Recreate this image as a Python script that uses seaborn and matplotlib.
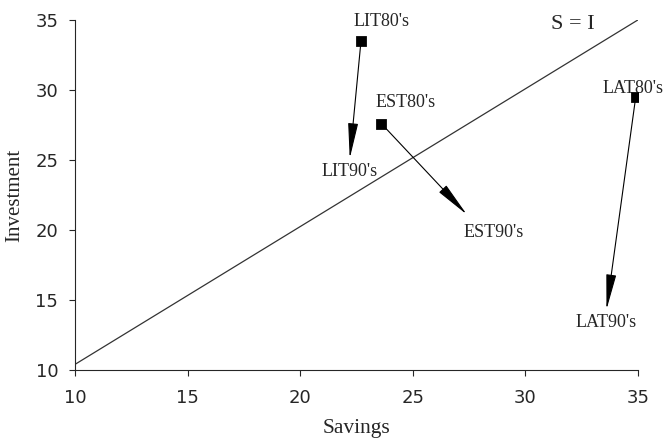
import matplotlib.pyplot as plt
import pandas as pd
import seaborn as sns

# regions, 80's position and 90's position (savings, investment)
regions = ['LIT', 'EST', 'LAT']
sav_80 = [22.7, 23.6, 34.9]
inv_80 = [33.5, 27.6, 29.5]
sav_90 = [22.2, 27.4, 33.6]
inv_90 = [25.1, 21.1, 14.3]

# label positions
lab80_x = [23.6, 24.7, 34.8]
lab80_y = [34.9, 29.1, 30.1]
lab90_x = [22.2, 28.6, 33.6]
lab90_y = [24.2, 19.8, 13.4]

# S = I reference line
line_x = [10, 35]
line_y = [10.4, 35]

df80 = pd.DataFrame({'Savings': sav_80, 'Investment': inv_80, 'region': regions})
df_line = pd.DataFrame({'Savings': line_x, 'Investment': line_y})

sns.set_style('ticks')
serif = ['Liberation Serif', 'DejaVu Serif']

fig = plt.figure(figsize=(6.67, 4.42), dpi=100)
ax = fig.add_axes([0.1125, 0.163, 0.844, 0.792])

sns.lineplot(data=df_line, x='Savings', y='Investment', color='#333333', lw=0.9, ax=ax)
sns.scatterplot(data=df80, x='Savings', y='Investment', marker='s', s=50,
                color='black', edgecolor='black', zorder=5, ax=ax)

for i, r in enumerate(regions):
    ax.annotate('', xy=(sav_90[i], inv_90[i]), xytext=(sav_80[i], inv_80[i]),
                arrowprops=dict(arrowstyle='-|>,head_length=1.7,head_width=0.24',
                                color='black', lw=0.8, mutation_scale=13,
                                shrinkA=0, shrinkB=0))
    ax.text(lab80_x[i], lab80_y[i], r + "80's", ha='center', va='center',
            fontsize=13, family=serif)
    ax.text(lab90_x[i], lab90_y[i], r + "90's", ha='center', va='center',
            fontsize=13, family=serif)

ax.text(32.1, 34.7, 'S = I', ha='center', va='center', fontsize=16, family=serif)

ax.set_xlim(10, 35)
ax.set_ylim(10, 35)
ax.set_xticks([10, 15, 20, 25, 30, 35])
ax.set_yticks([10, 15, 20, 25, 30, 35])
ax.tick_params(labelsize=13, length=4, width=0.8, direction='out')
ax.tick_params(axis='x', pad=10)
ax.tick_params(axis='y', pad=8)
ax.set_xlabel('Savings', fontsize=15.5, family=serif, labelpad=8)
ax.set_ylabel('Investment', fontsize=15, family=serif, labelpad=8)
for s in ['left', 'bottom']:
    ax.spines[s].set_linewidth(0.8)
sns.despine(ax=ax)

fig.savefig('out.png', dpi=100)
